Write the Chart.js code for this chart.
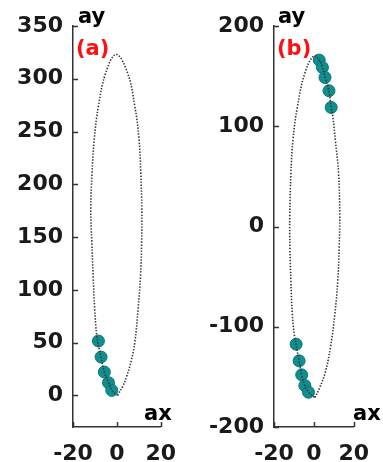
<!DOCTYPE html>
<html>
<head>
<meta charset="utf-8">
<script src="https://cdn.jsdelivr.net/npm/chart.js@4.4.1/dist/chart.umd.min.js"></script>
<style>
    html, body { margin: 0; padding: 0; background: #fff; }
    #wrap { position: relative; width: 383px; height: 462px; overflow: hidden; }
    canvas { position: absolute; top: 0; }
    #chartA { left: 0; }
    #chartB { left: 190px; }
</style>
</head>
<body>
<div id="wrap">
    <canvas id="chartA" width="190" height="462"></canvas>
    <canvas id="chartB" width="193" height="462"></canvas>
</div>
<script>
// Panel (a): dotted orbit and the five teal samples
const A_CURVE_X = [0.3, 2.8, 4.5, 6.7, 8.2, 9.7, 10.8, 11.3, 11.4, 10.9, 10.1, 8.2, 4.8, -0.3, -5.0, -8.4, -10.3, -11.3, -11.9, -11.4, -10.8, -10.1, -9.1, -7.2, -5.7, -3.8, -2.0, 0.3];
const A_CURVE_Y = [0, 9, 18, 34, 50, 82, 113, 145, 176, 211, 243, 274, 306, 323, 306, 274, 243, 211, 176, 145, 113, 82, 56, 36, 22, 12, 4, 0];
const A_DOTS_X = [-8.4, -7.2, -5.7, -3.8, -2.3];
const A_DOTS_Y = [51.5, 36.3, 22.1, 12, 4.7];
const A_Y_TICKS = [0, 50, 100, 150, 200, 250, 300, 350];

// Panel (b)
const B_CURVE_X = [0.5, 2.9, 5.8, 8.3, 10.5, 12.0, 12.7, 13.0, 12.4, 10.8, 9.5, 8.7, 7.6, 5.6, 4.3, 2.7, 0, -4.5, -8.3, -10.5, -11.5, -12.1, -12.0, -11.5, -10.8, -9.8, -8.9, -7.4, -6.1, -4.5, -2.7, 0.5];
const B_CURVE_Y = [-170.7, -161, -145, -121, -88, -55, -22, 11, 53, 86, 110, 119, 135, 149, 159, 166, 170.3, 153, 119, 86, 53, 11, -22, -55, -88, -108, -118, -134, -148, -159, -165, -170.7];
const B_DOTS_X = [2.7, 4.3, 5.6, 7.6, 8.7, -8.9, -7.4, -6.1, -4.5, -2.7];
const B_DOTS_Y = [166, 158.7, 148.7, 135.4, 118.8, -117.4, -134, -148, -158.7, -165.3];
const B_Y_TICKS = [-200, -100, 0, 100, 200];

const X_TICKS = [-20, 0, 20];

const AXIS_COLOR = '#333';
const TEXT_COLOR = '#1a1a1a';
const FONT = '"DejaVu Sans", sans-serif';

function toPoints(xs, ys) {
    return xs.map((x, i) => ({ x: x, y: ys[i] }));
}

// inward tick marks plus the axis names and panel letter
const decorPlugin = {
    id: 'decor',
    afterDraw(chart, args, opts) {
        const { ctx, chartArea, scales } = chart;
        ctx.save();
        ctx.strokeStyle = AXIS_COLOR;
        ctx.lineWidth = 1.5;
        ctx.beginPath();
        scales.y.ticks.forEach(t => {
            const py = Math.round(scales.y.getPixelForValue(t.value)) + 0.5;
            ctx.moveTo(chartArea.left, py);
            ctx.lineTo(chartArea.left + 5, py);
        });
        scales.x.ticks.forEach(t => {
            const px = Math.round(scales.x.getPixelForValue(t.value)) + 0.5;
            ctx.moveTo(px, chartArea.bottom);
            ctx.lineTo(px, chartArea.bottom - 5);
        });
        ctx.stroke();

        ctx.fillStyle = '#000';
        ctx.font = 'bold 21px ' + FONT;
        ctx.textBaseline = 'alphabetic';
        ctx.textAlign = 'left';
        ctx.fillText('ay', opts.ayX, 23);
        ctx.fillText('ax', opts.axX, 420);

        ctx.fillStyle = '#ff1010';
        ctx.font = 'bold 21px ' + FONT;
        ctx.textBaseline = 'middle';
        ctx.fillText(opts.tag, chartArea.left + 3, 50);
        ctx.restore();
    }
};

function makePanel(canvasId, cfg) {
    const ctx = document.getElementById(canvasId).getContext('2d');
    return new Chart(ctx, {
        type: 'scatter',
        data: {
            datasets: [{
                data: toPoints(cfg.curveX, cfg.curveY),
                showLine: true,
                borderColor: '#333',
                borderWidth: 1.6,
                borderDash: [1.4, 1.6],
                tension: 0.4,
                pointRadius: 0,
                order: 0
            }, {
                data: toPoints(cfg.dotsX, cfg.dotsY),
                showLine: false,
                backgroundColor: '#0f8f8f',
                borderColor: '#0a7676',
                borderWidth: 1,
                pointRadius: 6,
                order: 1
            }]
        },
        options: {
            responsive: false,
            animation: false,
            layout: { padding: { top: 26, right: cfg.padRight, bottom: 0, left: 0 } },
            plugins: {
                legend: { display: false },
                tooltip: { enabled: false },
                decor: { tag: cfg.tag, ayX: cfg.ayX, axX: cfg.axX }
            },
            scales: {
                x: {
                    min: -20, max: 20,
                    afterBuildTicks: s => { s.ticks = X_TICKS.map(v => ({ value: v })); },
                    afterFit: s => { s.height = 35; },
                    grid: { display: false, drawTicks: false },
                    border: { display: true, color: AXIS_COLOR, width: 1.5 },
                    ticks: { color: TEXT_COLOR, font: { family: FONT, size: 22, weight: 'bold' }, padding: 14, maxRotation: 0 }
                },
                y: {
                    min: cfg.yMin, max: cfg.yMax,
                    afterBuildTicks: s => { s.ticks = cfg.yTicks.map(v => ({ value: v })); },
                    afterFit: s => { s.width = cfg.yWidth; },
                    grid: { display: false, drawTicks: false },
                    border: { display: true, color: AXIS_COLOR, width: 1.5 },
                    ticks: { color: TEXT_COLOR, font: { family: FONT, size: 22, weight: 'bold' }, padding: 10 }
                }
            }
        },
        plugins: [decorPlugin]
    });
}

makePanel('chartA', {
    curveX: A_CURVE_X, curveY: A_CURVE_Y,
    dotsX: A_DOTS_X, dotsY: A_DOTS_Y,
    yTicks: A_Y_TICKS, yMin: -30, yMax: 350,
    yWidth: 73, padRight: 26,
    tag: '(a)', ayX: 78, axX: 144
});

makePanel('chartB', {
    curveX: B_CURVE_X, curveY: B_CURVE_Y,
    dotsX: B_DOTS_X, dotsY: B_DOTS_Y,
    yTicks: B_Y_TICKS, yMin: -200, yMax: 200,
    yWidth: 84, padRight: 18,
    tag: '(b)', ayX: 88, axX: 163
});
</script>
</body>
</html>
